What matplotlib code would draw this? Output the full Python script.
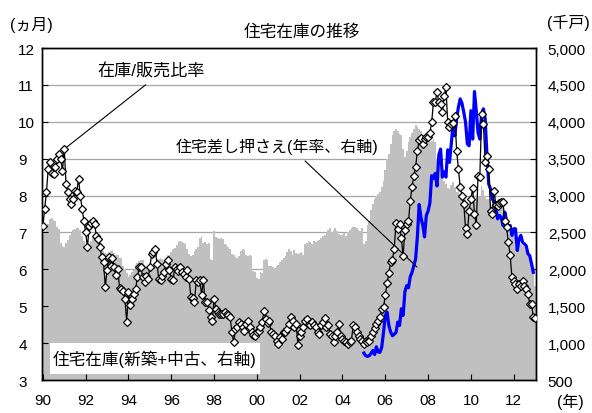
import numpy as np
import matplotlib
matplotlib.use('Agg')
import matplotlib.pyplot as plt
from matplotlib.patches import Rectangle

plt.rcParams['font.family'] = ['Liberation Sans', 'Noto Sans CJK JP']

# housing inventory, new + existing (thousand units, right axis), Jan 1990 - Jan 2013
inventory = [
    2480, 2520, 2600, 2620, 2680, 2690, 2670, 2650, 2570, 2550, 2360, 2310,  # 90
    2300, 2360, 2400, 2470, 2490, 2540, 2550, 2560, 2560, 2540, 2450, 2390,  # 91
    2300, 2310, 2350, 2380, 2420, 2440, 2440, 2420, 2380, 2310, 2250, 2220,  # 92
    2210, 2230, 2250, 2260, 2220, 2200, 2190, 2160, 2150, 2040, 2010, 1950,  # 93
    1900, 1920, 1960, 1990, 2060, 2090, 2110, 2120, 2120, 2060, 2030, 2020,  # 94
    2050, 2050, 2060, 2100, 2140, 2140, 2150, 2140, 2130, 2150, 2190, 2200,  # 95
    2240, 2270, 2290, 2330, 2370, 2390, 2370, 2360, 2340, 2280, 2210, 2180,  # 96
    2200, 2250, 2270, 2300, 2420, 2450, 2360, 2370, 2350, 2360, 2140, 2120,  # 97
    2520, 2440, 2420, 2410, 2420, 2410, 2340, 2330, 2300, 2270, 2210, 2190,  # 98
    2170, 2160, 2180, 2250, 2270, 2260, 2190, 2180, 2190, 2180, 1980, 1960,  # 99
    1880, 1870, 1970, 1950, 2120, 2140, 2130, 2040, 2050, 2030, 2020, 2040,  # 00
    2060, 2100, 2120, 2150, 2180, 2240, 2270, 2250, 2200, 2260, 2220, 2210,  # 01
    2220, 2230, 2200, 2340, 2360, 2380, 2370, 2350, 2390, 2370, 2380, 2400,  # 02
    2420, 2450, 2460, 2510, 2540, 2560, 2500, 2530, 2560, 2520, 2480, 2470,  # 03
    2460, 2490, 2450, 2500, 2540, 2560, 2580, 2570, 2560, 2540, 2520, 2560,  # 04
    2340, 2380, 2600, 2650, 2800, 2880, 2950, 2990, 3020, 3050, 3120, 3200,  # 05
    3350, 3500, 3560, 3700, 3820, 3880, 3900, 3870, 3840, 3820, 3630, 3520,  # 06
    3600, 3720, 3800, 3850, 3900, 3950, 3930, 3900, 3870, 3820, 3810, 3780,  # 07
    3760, 3730, 3740, 3760, 3720, 3490, 3400, 3310, 3270, 3200, 3160, 3100,  # 08
    3090, 3150, 3180, 3120, 3050, 3100, 3020, 3040, 3000, 2960, 2880, 2860,  # 09
    2900, 2950, 2990, 2960, 3000, 2980, 3130, 3080, 3000, 2960, 2950, 2900,  # 10
    2870, 2840, 2820, 2860, 2900, 2850, 2830, 2680, 2600, 2560, 2500, 2460,  # 11
    2480, 2450, 2420, 2380, 2350, 2320, 2300, 2260, 2220, 2150, 2050, 1950,  # 12
    1780,                                                                    # 13
]

# inventory / sales ratio (months, left axis)
ratio = [
    7.17, 7.64, 8.09, 8.72, 8.92, 8.60, 8.59, 8.77, 8.99, 9.13, 8.99, 8.67,
    9.26, 8.31, 8.09, 7.91, 7.77, 7.90, 8.13, 8.10, 8.45, 8.00, 7.64, 7.32,
    7.00, 6.60, 7.18, 7.25, 7.32, 7.23, 6.90, 6.82, 6.60, 6.33, 6.20, 5.53,
    5.97, 6.33, 6.10, 6.30, 6.05, 5.85, 6.01, 5.50, 5.47, 5.42, 5.20, 4.58,
    5.38, 5.02, 5.20, 5.33, 5.47, 5.78, 6.06, 6.06, 5.78, 5.65, 5.83, 5.74,
    6.06, 6.42, 6.46, 6.55, 6.15, 5.74, 5.70, 5.83, 5.92, 6.15, 6.24, 5.97,
    5.74, 5.70, 6.06, 6.01, 5.95, 6.06, 5.92, 5.88, 5.78, 5.97, 5.74, 5.24,
    5.22, 5.11, 5.70, 5.65, 5.70, 5.31, 5.70, 5.11, 5.11, 4.90, 4.70, 4.61,
    5.20, 4.93, 4.84, 4.79, 4.79, 4.79, 4.84, 4.79, 4.75, 4.70, 4.29, 4.02,
    4.38, 4.45, 4.57, 4.52, 4.45, 4.34, 4.52, 4.61, 4.45, 4.30, 4.22, 4.20,
    4.30, 4.34, 4.43, 4.57, 4.88, 4.66, 4.55, 4.61, 4.29, 4.25, 4.20, 4.07,
    3.98, 4.16, 4.10, 4.29, 4.30, 4.38, 4.52, 4.70, 4.60, 4.43, 4.52, 3.96,
    4.20, 4.30, 4.43, 4.61, 4.66, 4.52, 4.50, 4.57, 4.50, 4.43, 4.30, 4.25,
    4.49, 4.57, 4.67, 4.43, 4.50, 4.25, 4.20, 4.02, 4.20, 4.30, 4.52, 4.20,
    4.10, 4.07, 4.02, 3.98, 4.04, 4.07, 4.48, 4.43, 4.30, 4.20, 4.11, 4.07,
    3.98, 4.07, 4.02, 4.05, 4.20, 4.30, 4.40, 4.52, 4.61, 4.70, 4.93, 4.97,
    5.30, 5.62, 5.90, 6.20, 6.26, 6.55, 7.26, 7.10, 7.23, 6.85, 6.35, 7.08,
    7.23, 7.30, 7.86, 8.22, 8.54, 8.77, 9.22, 9.50, 9.55, 9.40, 9.53, 9.60,
    9.60, 9.70, 9.99, 10.53, 10.55, 10.80, 10.53, 10.48, 10.26, 10.71, 10.93, 9.99,
    9.85, 9.94, 9.97, 10.17, 9.22, 8.72, 8.22, 8.00, 7.77, 7.11, 6.96, 7.59,
    7.91, 8.20, 7.50, 7.19, 8.54, 8.50, 10.21, 9.94, 8.90, 9.08, 8.72, 7.59,
    7.50, 8.13, 7.75, 7.73, 7.80, 7.82, 7.82, 7.32, 7.15, 6.73, 6.39, 5.78,
    5.69, 5.60, 5.47, 5.60, 5.56, 5.69, 5.56, 5.47, 5.33, 5.06, 5.06, 4.70,
    4.67,
]

# foreclosures, annual rate (thousand, right axis), Jan 2005 - Dec 2012
foreclosure_start = 180
foreclosure = [
    865, 830, 820, 830, 860, 900, 845, 950, 880, 875, 945, 1145,
    1375, 1420, 1240, 1150, 1100, 1120, 1145, 1285, 1240, 1465, 1375, 1700,
    1780, 1750, 1900, 1960, 2050, 2140, 2450, 2880, 2700, 2600, 2440, 2730,
    2790, 2900, 3270, 3230, 3300, 3130, 3550, 3630, 3250, 3320, 3250, 3620,
    3450, 3700, 3970, 3810, 4040, 4200, 4310, 4250, 4130, 3995, 3700, 3675,
    4150, 3765, 4410, 4150, 3855, 3765, 4105, 4175, 4040, 3540, 3155, 3090,
    2955, 2910, 2820, 2685, 2730, 2705, 2595, 2775, 2660, 2550, 2595, 2460,
    2550, 2550, 2255, 2410, 2460, 2365, 2345, 2320, 2210, 2185, 2075, 1960,
]

year_labels = ['90', '92', '94', '96', '98', '00', '02', '04', '06', '08', '10', '12']

months = np.arange(len(inventory))
fc_months = np.arange(foreclosure_start, foreclosure_start + len(foreclosure))

fig = plt.figure(figsize=(5.92, 4.14), dpi=100)
ax = fig.add_axes([0.0709, 0.0797, 0.8345, 0.8019])
ax2 = ax.twinx()
ax.set_zorder(ax2.get_zorder() + 1)
ax.patch.set_visible(False)

ax2.bar(months, inventory, width=1.0, color='#c0c0c0', linewidth=0, zorder=2)
ax2.plot(fc_months, foreclosure, color='#0000ff', lw=2.3, zorder=3)
ax2.set_ylim(500, 5000)
ax2.set_yticks(np.arange(500, 5001, 500))
ax2.set_yticklabels([f'{v:,}' for v in range(500, 5001, 500)])
ax2.yaxis.grid(True, color='#a6a6a6', lw=0.9)
ax2.set_axisbelow(True)

ax.plot(months, ratio, color='black', lw=0.9, marker='D', ms=4.5,
        mfc='white', mec='black', mew=0.9, zorder=4)
ax.set_ylim(3, 12)
ax.set_yticks(range(3, 13))
ax.set_xlim(-0.5, len(months) - 0.5)
ax.set_xticks(np.arange(0, len(months), 24))
ax.set_xticklabels(year_labels)

ax.tick_params(axis='x', direction='in', length=4, pad=9, labelsize=11)
ax.tick_params(axis='y', direction='in', length=4, pad=17, labelsize=11)
for lbl in ax.get_yticklabels():
    lbl.set_horizontalalignment('left')
ax2.tick_params(axis='y', direction='in', length=4, pad=8.5, labelsize=11)

for a in (ax, ax2):
    for s in a.spines.values():
        s.set_color('black')
        s.set_linewidth(1.0)

# text box for the inventory bars
ax.add_patch(Rectangle((0.016, 0.018), 0.425, 0.093, transform=ax.transAxes,
                       facecolor='white', edgecolor='none', zorder=3))
ax.text(0.229, 0.064, '住宅在庫(新築+中古、右軸)', transform=ax.transAxes,
        ha='center', va='center', fontsize=12, zorder=3.5)

ax.annotate('', xy=(12, ratio[12]), xytext=(58.9, 11.05),
            arrowprops=dict(arrowstyle='-', color='black', lw=0.8))
ax.annotate('', xy=(210.9, 6.01), xytext=(145.9, 8.99),
            arrowprops=dict(arrowstyle='-', color='black', lw=0.8))

fig.text(0.164, 0.826, '在庫/販売比率', ha='left', va='center', fontsize=12.3)
fig.text(0.296, 0.645, '住宅差し押さえ(年率、右軸)', ha='left', va='center', fontsize=11.5)
fig.text(0.51, 0.923, '住宅在庫の推移', ha='center', va='center', fontsize=12)
fig.text(0.017, 0.94, '(ヵ月)', ha='left', va='center', fontsize=11.5)
fig.text(0.924, 0.945, '(千戸)', ha='left', va='center', fontsize=11.5)
fig.text(0.963, 0.029, '(年)', ha='center', va='center', fontsize=11.5)

fig.savefig('out.png', dpi=100)
